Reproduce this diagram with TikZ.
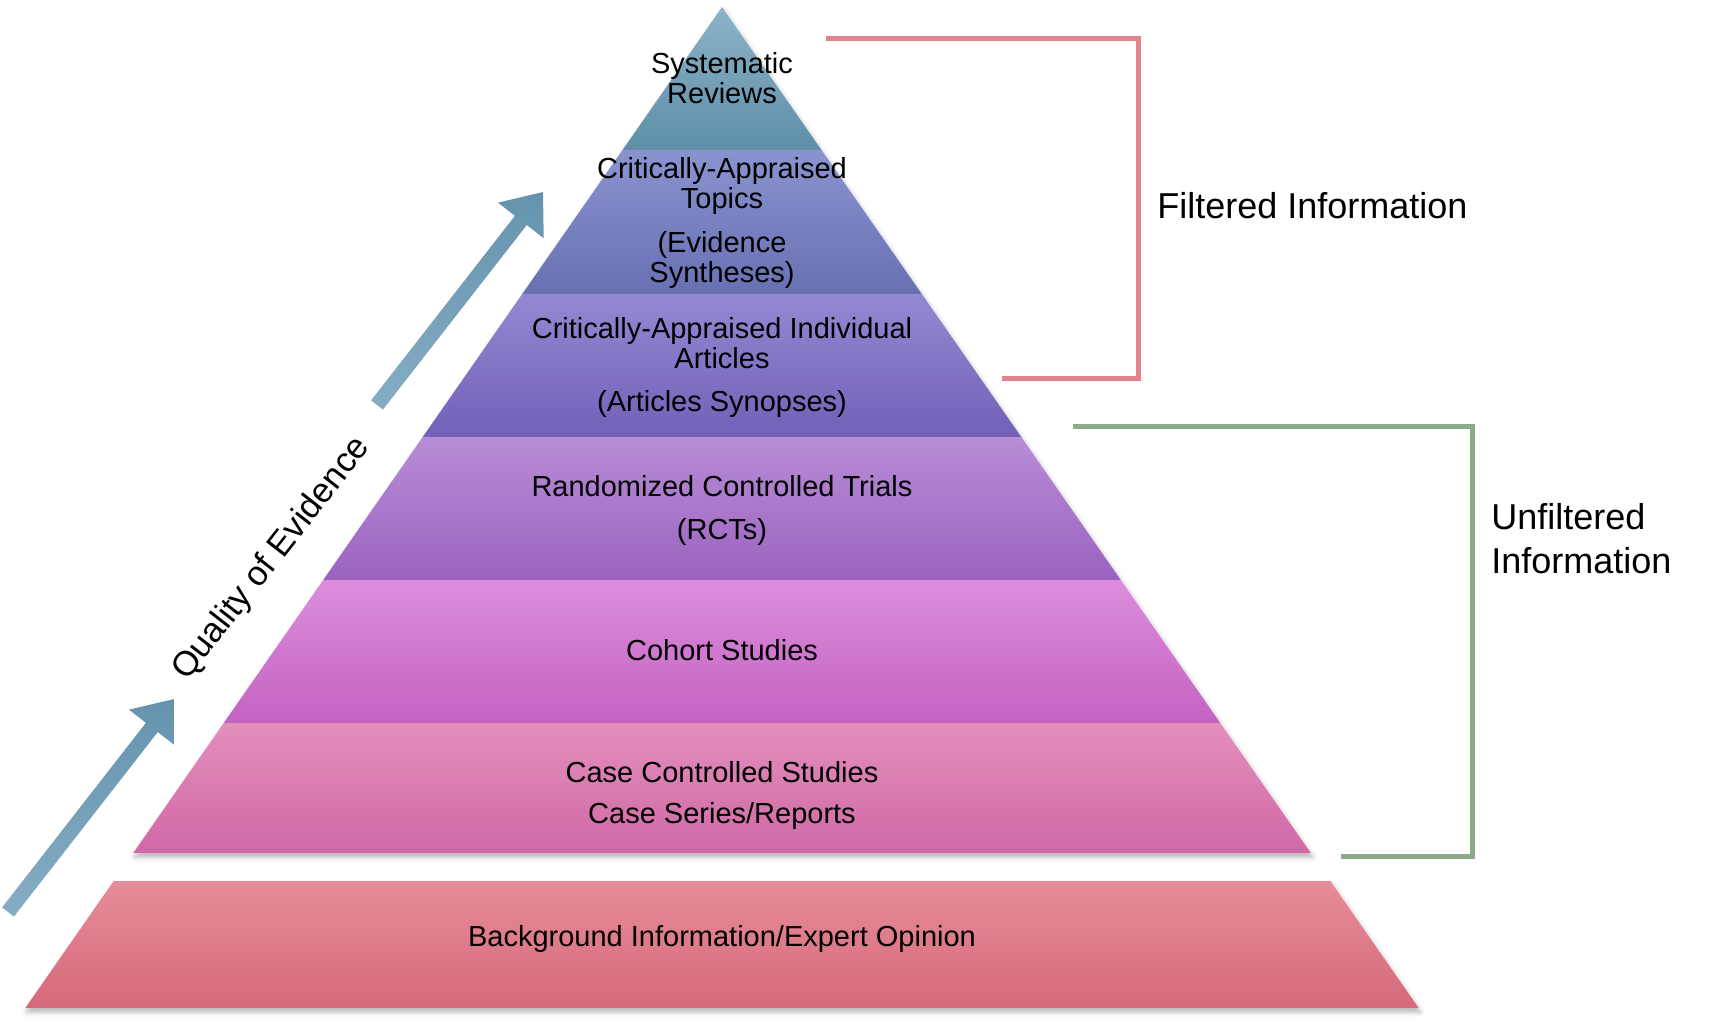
\documentclass[tikz,border=0pt]{standalone}
\usepackage{fontspec}
\setmainfont{Liberation Sans}
\usetikzlibrary{shadows.blur}
\definecolor{aT}{HTML}{8CB3C8}\definecolor{aB}{HTML}{5E8EA8}
\definecolor{bT}{HTML}{8B93CF}\definecolor{bB}{HTML}{6770B2}
\definecolor{cT}{HTML}{9488D2}\definecolor{cB}{HTML}{7360B8}
\definecolor{dT}{HTML}{B88CD6}\definecolor{dB}{HTML}{9B63C0}
\definecolor{eT}{HTML}{DC8EDC}\definecolor{eM}{HTML}{D878DA}\definecolor{eB}{HTML}{C462C2}
\definecolor{fT}{HTML}{E38FBC}\definecolor{fB}{HTML}{D068A6}
\definecolor{gT}{HTML}{E78C99}\definecolor{gM}{HTML}{E67F91}\definecolor{gB}{HTML}{D5697A}
\definecolor{pinkline}{HTML}{E2838F}
\definecolor{greenline}{HTML}{8BAA8B}
\definecolor{arrL}{HTML}{86ADC4}\definecolor{arrD}{HTML}{6593AE}
\begin{document}
\begin{tikzpicture}[x=0.5pt,y=-0.5pt,
  lbl/.style={align=center, font=\fontsize{14.5}{15}\selectfont, inner sep=0pt},
  bracketline/.style={line width=2.5pt},
  side/.style={font=\fontsize{18}{22}\selectfont, anchor=west, align=left, inner sep=0pt},
  softshadow/.style={blur shadow={shadow xshift=0.8pt, shadow yshift=-2pt, shadow opacity=30, shadow blur radius=2.5pt}}]
\useasboundingbox (0,0) rectangle (1716,1022);
% shadows
\path[softshadow, fill=white] (722,7) -- (1310.8,853) -- (133.2,853) -- cycle;
\path[softshadow, fill=white] (113.7,881) -- (1330.3,881) -- (1418.7,1008) -- (25.3,1008) -- cycle;
% bands
\shade[top color=aT, bottom color=aB] (722,7) -- (821.5,150) -- (622.5,150) -- cycle;
\shade[top color=bT, bottom color=bB] (622.5,150) -- (821.5,150) -- (921.8,294) -- (522.2,294) -- cycle;
\shade[top color=cT, bottom color=cB] (522.2,294) -- (921.8,294) -- (1021.3,437) -- (422.7,437) -- cycle;
\shade[top color=dT, bottom color=dB] (422.7,437) -- (1021.3,437) -- (1120.8,580) -- (323.2,580) -- cycle;
\shade[top color=eT, middle color=eM, bottom color=eB] (323.2,580) -- (1120.8,580) -- (1220.3,723) -- (223.7,723) -- cycle;
\shade[top color=fT, bottom color=fB] (223.7,723) -- (1220.3,723) -- (1310.8,853) -- (133.2,853) -- cycle;
\shade[top color=gT, middle color=gM, bottom color=gB] (113.7,881) -- (1330.3,881) -- (1418.7,1008) -- (25.3,1008) -- cycle;
% band labels
\node[lbl] (b1) at (722,78) {Systematic\\Reviews};
\node[lbl] (b2) at (722,223) {Critically-Appraised\\Topics\\[6.5pt](Evidence\\Syntheses)};
\node[lbl] (b3) at (722,367) {Critically-Appraised Individual\\Articles\\[6.5pt](Articles Synopses)};
\node[lbl] (b4) at (722,510) {Randomized Controlled Trials\\[6.5pt](RCTs)};
\node[lbl] (b5) at (722,650) {Cohort Studies};
\node[lbl] (b6) at (722,795) {Case Controlled Studies\\[5.5pt]Case Series/Reports};
\node[lbl] (b7) at (722,939) {Background Information/Expert Opinion};
% brackets
\draw[bracketline, pinkline] (826,39) -- (1138,39) -- (1138,378) -- (1002,378);
\draw[bracketline, greenline] (1073,426) -- (1472,426) -- (1472,856) -- (1341,856);
\node[side] (filt) at (1157,206) {Filtered Information};
\node[side] (unf) at (1491,539) {Unfiltered\\Information};
% quality arrows
\foreach \s in {0,1}{
  \begin{scope}[shift={(369*\s,-507*\s)}]
    \shade[bottom color=arrL, top color=arrD]
      (2.09,907.39) -- (145.92,722.83) -- (128.97,709.61) -- (173.97,699.05)
      -- (174.71,745.27) -- (157.76,732.05) -- (13.92,916.61) -- cycle;
  \end{scope}
}
\node[rotate=52, font=\fontsize{17.3}{20}\selectfont, inner sep=0pt] (qual) at (272,559) {Quality of Evidence};
\end{tikzpicture}
\end{document}
